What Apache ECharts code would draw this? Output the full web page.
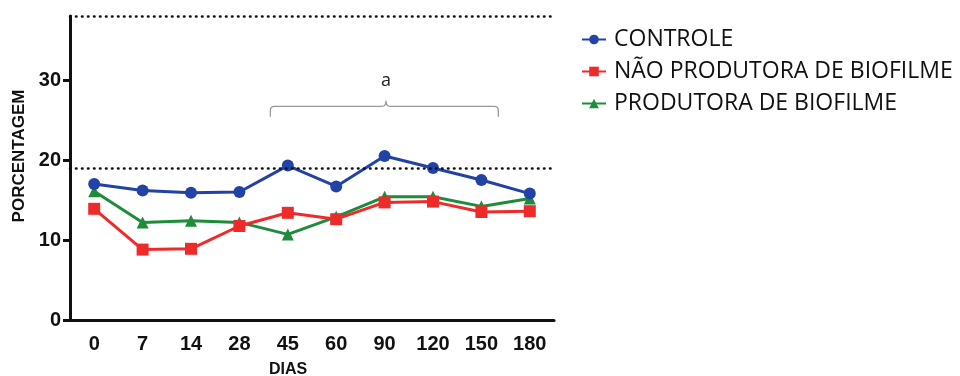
<!DOCTYPE html>
<html>
<head>
<meta charset="utf-8">
<script src="https://cdn.jsdelivr.net/npm/echarts@6/dist/echarts.min.js"></script>
<style>html,body{margin:0;padding:0;background:#fff;}#c{width:960px;height:376px;}</style>
</head>
<body>
<div id="c"></div>
<script>
const categories = ['0','7','14','28','45','60','90','120','150','180'];
const controle = [17.0, 16.2, 15.9, 16.0, 19.3, 16.7, 20.5, 19.0, 17.5, 15.8];
const naoProdutora = [13.9, 8.8, 8.9, 11.75, 13.4, 12.6, 14.7, 14.8, 13.5, 13.6];
const produtora = [16.1, 12.2, 12.4, 12.2, 10.7, 12.9, 15.4, 15.4, 14.2, 15.2];
const refLines = [19, 38];
const yTicks = [0, 10, 20, 30];
// bracket annotation: from/to in category index units, level in y units
const bracketFrom = 3.64, bracketTo = 8.35, bracketMid = 6.03, bracketLevel = 26.7, bracketLabel = 'a';

const numFont = "'Liberation Sans Narrow','Liberation Sans',Arial,sans-serif";
const txtFont = "'Open Sans','Noto Sans',sans-serif";

const chart = echarts.init(document.getElementById('c'));

function lerpCoord(api, idx, val) {
  const i0 = Math.floor(idx), i1 = Math.min(i0 + 1, categories.length - 1);
  const p0 = api.coord([i0, val]), p1 = api.coord([i1, val]);
  const t = idx - i0;
  return [p0[0] + (p1[0] - p0[0]) * t, p0[1]];
}

chart.setOption({
  animation: false,
  grid: { left: 70, top: 16, width: 484, bottom: 56, containLabel: false, outerBoundsMode: 'none' },
  legend: {
    data: ['CONTROLE', 'NÃO PRODUTORA DE BIOFILME', 'PRODUTORA DE BIOFILME'],
    orient: 'vertical', left: 576, top: 23, itemWidth: 24, itemHeight: 12, itemGap: 9,
    textStyle: { fontFamily: txtFont, fontSize: 23, color: '#111', padding: [0, 0, 0, 3] }
  },
  xAxis: {
    type: 'category', data: categories, boundaryGap: true,
    name: 'DIAS', nameLocation: 'middle', nameGap: 42,
    nameTextStyle: { fontFamily: "'Liberation Sans',sans-serif", fontWeight: 'bold', fontSize: 16, color: '#111', padding: [0, 48, 0, 0] },
    axisLine: { lineStyle: { color: '#111', width: 3 } },
    axisTick: { alignWithLabel: true, length: 7, lineStyle: { width: 3, color: '#111' } },
    axisLabel: { interval: 0, fontFamily: numFont, fontWeight: 'bold', fontSize: 20, color: '#111', margin: 14 },
    splitLine: { show: false }
  },
  yAxis: {
    type: 'value', min: 0, max: 38, interval: 10,
    name: 'PORCENTAGEM', nameLocation: 'middle', nameGap: 31,
    nameTextStyle: { fontFamily: "'Liberation Sans',sans-serif", fontWeight: 'bold', fontSize: 17, color: '#111', padding: [0, 0, 0, 24] },
    axisLine: { show: true, lineStyle: { color: '#111', width: 3 } },
    axisTick: { show: true, length: 7, lineStyle: { width: 3, color: '#111' }, customValues: yTicks },
    axisLabel: { fontFamily: numFont, fontWeight: 'bold', fontSize: 20, color: '#111', margin: 9, customValues: yTicks },
    splitLine: { show: false }
  },
  series: [
    {
      name: 'PRODUTORA DE BIOFILME', type: 'line', data: produtora, z: 2,
      color: '#1E8C3A', symbol: 'triangle', symbolSize: 12,
      lineStyle: { width: 3 }
    },
    {
      name: 'NÃO PRODUTORA DE BIOFILME', type: 'line', data: naoProdutora, z: 3,
      color: '#EE2B2B', symbol: 'rect', symbolSize: 12,
      lineStyle: { width: 3 }
    },
    {
      name: 'CONTROLE', type: 'line', data: controle, z: 4,
      color: '#2342A6', symbol: 'circle', symbolSize: 12,
      lineStyle: { width: 3 },
      markLine: {
        silent: true, symbol: 'none', label: { show: false },
        lineStyle: { color: '#111', type: [0.5, 5.5], width: 2.6, cap: 'round' },
        data: refLines.map(v => ({ yAxis: v }))
      }
    },
    {
      name: 'bracket', type: 'custom', silent: true, z: 1,
      data: [[bracketMid, bracketLevel]],
      renderItem: function (params, api) {
        const a = lerpCoord(api, bracketFrom, bracketLevel);
        const b = lerpCoord(api, bracketTo, bracketLevel);
        const m = lerpCoord(api, bracketMid, bracketLevel);
        const y = a[1];
        const drop = api.size([0, 1.3])[1];
        const tip = api.size([0, 0.7])[1];
        const r = 4;
        const d = `M${a[0]},${y + drop} L${a[0]},${y + r} Q${a[0]},${y} ${a[0] + r},${y} ` +
          `L${m[0] - r},${y} Q${m[0]},${y} ${m[0]},${y - tip} Q${m[0]},${y} ${m[0] + r},${y} ` +
          `L${b[0] - r},${y} Q${b[0]},${y} ${b[0]},${y + r} L${b[0]},${y + drop}`;
        return {
          type: 'group',
          children: [
            { type: 'path', shape: { pathData: d }, style: { stroke: '#999', lineWidth: 1.3, fill: null } },
            { type: 'text', x: m[0], y: y - api.size([0, 3.2])[1],
              style: { text: bracketLabel, fontFamily: txtFont, fontSize: 18, fill: '#222', align: 'center', verticalAlign: 'middle' } }
          ]
        };
      }
    }
  ]
});
</script>
</body>
</html>
